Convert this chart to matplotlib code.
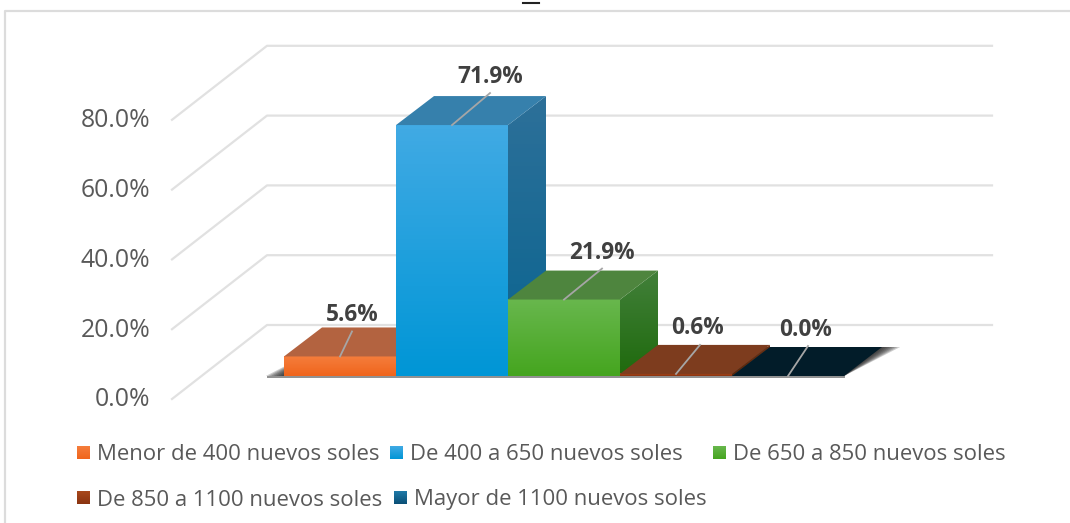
import matplotlib
matplotlib.use("Agg")
import matplotlib.pyplot as plt
from matplotlib.colors import to_rgb
from matplotlib.patches import Polygon
import numpy as np

# Datos
categorias = ["Menor de 400 nuevos soles", "De 400 a 650 nuevos soles", "De 650 a 850 nuevos soles",
              "De 850 a 1100 nuevos soles", "Mayor de 1100 nuevos soles"]
valores = [5.6, 71.9, 21.9, 0.6, 0.0]
ticks_y = [0, 20, 40, 60, 80]

# Colores: frente arriba, frente abajo, tapa, lado arriba, lado abajo
frente_a = ["#f57d3c", "#41aae4", "#68b74d", "#a8481c", "#1f7aa8"]
frente_b = ["#f0651c", "#0096d6", "#45a51f", "#8a3410", "#0b4f76"]
tapa = ["#b36340", "#3680ac", "#4e853e", "#7d3c1e", "#021c29"]
lado_a = ["#a5522c", "#2d7099", "#42803a", "#6e3012", "#02161f"]
lado_b = ["#8a3c14", "#086490", "#1f6a0d", "#5a2608", "#02161f"]

# Escala en pixeles de la figura
W, H = 1070, 523
PX_X = 112.0
PX_Y = 3.49
X0 = 340.0
Y0 = 376.0
DX = 38 / PX_X
DY = 29 / PX_Y

plt.rcParams["font.family"] = ["Open Sans", "DejaVu Sans"]
fig = plt.figure(figsize=(W / 100, H / 100), dpi=100)
ax = fig.add_axes([0, 0, 1, 1])
ax.axis("off")


def px(dx, dy):
    return dx / PX_X, dy / PX_Y


def abs_px(x, y):
    return (x - X0) / PX_X, (Y0 - y) / PX_Y


def degradado(a, b):
    t = np.linspace(0, 1, 64).reshape(-1, 1, 1)
    return np.array(to_rgb(a)).reshape(1, 1, 3) * (1 - t) + np.array(to_rgb(b)).reshape(1, 1, 3) * t


# Marco del grafico
ax.plot(*zip(abs_px(5, H), abs_px(5, 11), abs_px(W, 11)), color="#dcdcdc", lw=1.6)

# Resto del titulo cortado
ax.plot(*zip(abs_px(523, 3), abs_px(539, 3)), color="#222222", lw=1.5)

# Rejilla en perspectiva
fx, fy = px(-168, -23)
bx, by = px(-73, 51)
ex, _ = px(652, 0)
for t in ticks_y:
    ax.plot([fx, bx, ex], [t + fy, t + by, t + by], color="#e1e1e1", lw=1.6, zorder=1)
    ax.text(px(-190, 0)[0], t + px(0, -24)[1], f"{t:.1f}%", ha="right", va="center",
            fontsize=17.8, color="#595959")

# Sombra del piso
for k in range(8):
    sx, sy = px(k * 2.6, 0)
    ax.add_patch(Polygon([(-0.5 - sx, 0), (4.5, 0), (4.5 + DX + sx, DY), (-0.5 + DX, DY)], closed=True,
                         fc="#222222", ec="none", alpha=0.22, zorder=2))
ax.plot([-0.5 - 16 / PX_X, 4.5], [px(0, -1)[1]] * 2, color="#8f8f8f", lw=1.4, zorder=2)

# Barras
for i, v in enumerate(valores):
    z = 3 + i
    l, r = i - 0.5, i + 0.5
    if v > 0:
        ax.imshow(degradado(frente_a[i], frente_b[i]), extent=(l, r, 0, v), aspect="auto", zorder=z + 0.2)
        im = ax.imshow(degradado(lado_a[i], lado_b[i]), extent=(r, r + DX, 0, v + DY), aspect="auto", zorder=z + 0.1)
        im.set_clip_path(Polygon([(r, 0), (r + DX, DY), (r + DX, v + DY), (r, v)], closed=True,
                                 transform=ax.transData))
    ax.add_patch(Polygon([(l, v), (r, v), (r + DX, v + DY), (l + DX, v + DY)], closed=True,
                         fc=tapa[i], ec="none", zorder=z + 0.3))

# Etiquetas con linea guia
guia = [(12, 25), (38, 32), (38, 31), (24, 29), (20, 30)]
etiq = [(12, 41), (38, 48), (38, 47), (22, 46), (18, 46)]
for i, v in enumerate(valores):
    gx, gy = px(*guia[i])
    ax.plot([i, i + gx], [v, v + gy], color="#a6a6a6", lw=1.3, zorder=20)
    tx, ty = px(*etiq[i])
    ax.text(i + tx, v + ty, f"{v:.1f}%", ha="center", va="center", fontsize=16.3, fontweight="bold",
            color="#404040", zorder=21)

# Leyenda
cajas = [77, 390, 713, 77, 394]
ys = [453, 453, 453, 498, 498]
for i, cat in enumerate(categorias):
    x0, y0 = abs_px(cajas[i], ys[i])
    sx, sy = px(13, 13)
    ax.imshow(degradado(frente_a[i], frente_b[i]), extent=(x0, x0 + sx, y0 - sy / 2, y0 + sy / 2),
              aspect="auto", zorder=5)
    ax.text(x0 + px(20, 0)[0], y0 + px(0, -2)[1], cat, ha="left", va="center", fontsize=15.9, color="#595959")

ax.set_xlim(-X0 / PX_X, (W - X0) / PX_X)
ax.set_ylim(-(H - Y0) / PX_Y, Y0 / PX_Y)

fig.savefig("out.png", dpi=100)
